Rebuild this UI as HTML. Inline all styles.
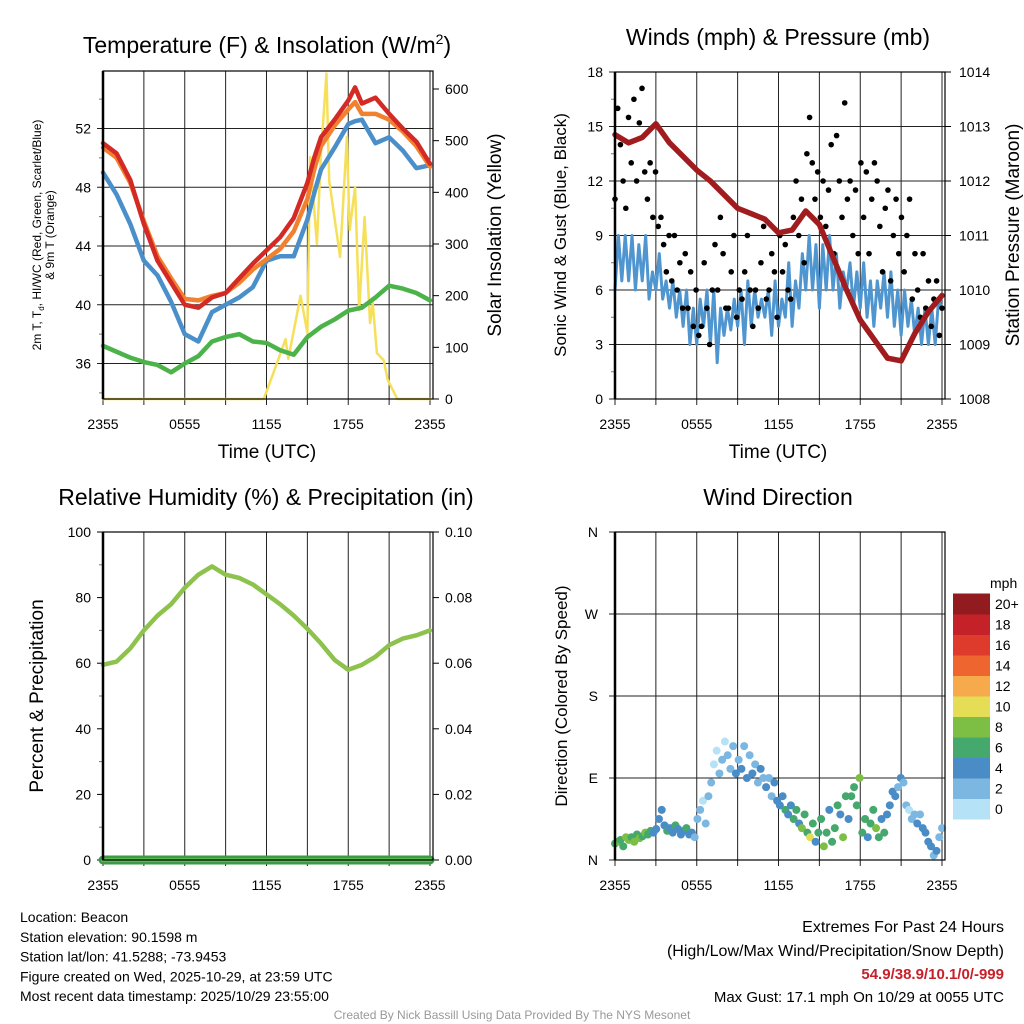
<!DOCTYPE html>
<html><head><meta charset="utf-8"><style>
body{margin:0;background:#fff;}
svg{display:block;font-family:"Liberation Sans",sans-serif;}
</style></head><body>
<svg id="c" width="1024" height="1024" xmlns="http://www.w3.org/2000/svg"></svg>
<script>
const hours=[0,1,2,3,4,5,6,7,8,9,10,11,12,13,14,15,16,17,18,19,20,21,22,23,24];
const tempHours=[0,1,2,3,4,5,6,7,8,9,10,11,12,13,14,15,15.5,16,17,18,18.5,19,20,21,22,23,24];
const tempRed=[51.0,50.3,48.5,45.5,43.0,41.5,40.0,39.8,40.5,40.8,41.8,42.8,43.7,44.6,45.9,48.3,50.0,51.4,52.6,53.9,54.8,53.7,54.1,53.0,52.0,51.1,49.6];
const tempOrange=[50.7,50.0,48.3,45.7,43.3,41.8,40.4,40.3,40.6,40.8,41.5,42.4,43.1,43.8,45.0,47.2,49.2,50.8,52.2,53.3,53.8,53.0,53.0,52.6,51.8,50.8,49.4];
const tempBlue=[49.0,47.5,45.5,43.0,42.0,40.2,38.0,37.5,39.5,40.0,40.5,41.2,43.0,43.3,43.3,45.8,47.6,49.2,50.7,52.3,52.5,52.6,51.0,51.4,50.5,49.3,49.5];
const dewGreen=[37.2,36.8,36.4,36.1,35.9,35.4,36.0,36.5,37.5,37.8,38.0,37.5,37.4,36.9,36.6,37.8,38.5,39.0,39.6,39.8,40.5,41.3,41.1,40.8,40.3];
const solarTimes=[0,11.8,12.5,13.4,13.6,14.5,15,15.2,15.7,16,16.4,16.6,17.4,17.9,18.1,18.5,18.8,19.2,19.6,19.8,20.1,20.6,20.9,21.6,24];
const solarVals=[0,0,50,116,78,200,128,468,300,476,630,423,275,507,327,410,172,352,147,186,89,75,37,0,0];
const pressure=[1012.85,1012.7,1012.8,1013.05,1012.7,1012.45,1012.2,1012.0,1011.75,1011.5,1011.4,1011.3,1011.05,1011.1,1011.45,1011.2,1010.6,1010.0,1009.45,1009.1,1008.75,1008.7,1009.2,1009.6,1009.9];
const sonicWind=[6,9,6.5,9,6.5,9,6,8.5,6.5,9,5.5,7,6,8,5.5,6.5,5,6.5,4.5,6,4,6,3,5,3,5.5,4,6,3,6,2,5,3.5,5,3.8,5.5,4,6,3,6.5,4,6,4.5,5.5,4.5,6,3.5,6.5,4,5.5,4.5,7.5,4,6.5,5,8,6,9,6,8.5,5,8.5,6,9,6,8,5,7,6,7.5,5,7,5,7.5,4.5,6.5,4,6.5,5,7,4.5,7,4,6,3.5,6,4,5.5,3.5,5,3,5,3,5,3,5.5,5];
const gusts=[11,16,14,12,10.5,15.5,13,16.5,12,15.2,17.1,12.5,11,13,10,12.5,9.5,10,8.5,7,9,6.5,9,6,7.5,5,8,5,7,4,6,3.5,4,7.5,5,3,6,8.5,6,10,8,5,5,7,9,4.5,6,5.5,7,9,6,4,6,5,7.5,9.5,5.5,6,8,7,4.5,9,7,8.5,6,5.5,10,12,9,11,7.5,13.5,15.5,13,11,12.5,10,12,9.5,11.5,14,8,14.5,12,10,16.3,11,12,9,11.5,8,13,10,12.5,8,11,13,12,9.5,7,10.5,11.5,6.5,9,11,8,10,7,9,11,5.5,8,6,4.5,8,5,6.5,4,5.5,6.5,3.5,5];
const rhHours=[0,1,2,3,4,5,6,7,8,9,10,11,12,13,14,15,16,17,18,19,20,21,22,23,24];
const rhVals=[59.5,60.5,64.5,70,74.5,78,83,87,89.5,87,86,84,81,78,74.5,70.5,66,61,58,59.5,62,65.5,67.5,68.5,70];
const precipVals=[0,0,0,0,0,0,0,0,0,0,0,0,0,0,0,0,0,0,0,0,0,0,0,0,0];
const dirVals=[18,20,22,15,25,22,25,20,28,24,26,30,28,32,30,34,45,55,38,32,35,30,38,34,28,32,35,28,30,25,45,55,65,40,70,85,105,120,95,110,130,115,100,125,95,110,100,125,90,115,95,105,85,100,90,80,90,70,85,65,60,70,55,50,60,45,55,40,35,50,30,25,40,20,30,45,15,30,55,20,35,60,50,25,70,45,70,80,60,90,30,45,25,40,55,35,25,45,30,50,60,75,70,80,90,85,60,55,45,50,40,50,35,30,20,15,5,10,25,35];
const dirSpeeds=[7,8,7,6,8,8,7,9,7,8,6,9,7,6,5,5,4,4,5,6,5,4,6,5,4,5,6,4,5,3,2,2,1,2,2,2,1,1,2,3,1,2,3,2,4,3,4,2,4,3,4,3,2,4,3,4,2,3,5,4,4,5,6,4,5,6,7,5,9,7,6,10,7,5,6,7,8,6,4,7,6,7,5,8,6,5,6,7,6,8,7,6,5,7,6,8,7,5,6,4,4,5,4,3,5,2,2,1,2,3,4,3,4,5,4,4,3,4,3,2];
const xTickLabels=["2355","0555","1155","1755","2355"];
const tempTicks=[36,40,44,48,52];
const solarTicks=[0,100,200,300,400,500,600];
const windTicks=[0,3,6,9,12,15,18];
const presTicks=[1008,1009,1010,1011,1012,1013,1014];
const rhTicks=[0,20,40,60,80,100];
const precipTicks=["0.00","0.02","0.04","0.06","0.08","0.10"];
const dirTicks=["N","E","S","W","N"];
const speedBins=["0","2","4","6","8","10","12","14","16","18","20+"];
const speedColors=["#b5e2f6","#7bb7e1","#4a8cc6","#45a86c","#7dbf45","#e6dd57","#f6aa4b","#ee6530","#df3b2c","#c42228","#921b1f"];

const NS="http://www.w3.org/2000/svg";
const svg=document.getElementById('c');
function el(tag,attrs,parent,text){const e=document.createElementNS(NS,tag);for(const k in attrs)e.setAttribute(k,attrs[k]);if(text!==undefined)e.textContent=text;(parent||svg).appendChild(e);return e;}
function lin(d0,d1,r0,r1){return v=>r0+(v-d0)*(r1-r0)/(d1-d0);}

function panel(name,x0,x1,y0,y1){
  const g=el('g',{});
  
  
  for(let h=0;h<=24;h+=3){const x=x0+(x1-x0)*h/24;el('line',{x1:x,y1:y0,x2:x,y2:y1+6,stroke:'#222','stroke-width':1},g);}
  xTickLabels.forEach((l,i)=>{const x=x0+(x1-x0)*i/4;const t=el('text',{x:x,y:y1+30,'font-size':14,'text-anchor':'middle',fill:'#000'},g,l);});
  return g;
}
function box(g,x0,x1,y0,y1){
  el('rect',{x:x0,y:y0,width:x1-x0+3,height:y1-y0,fill:'none',stroke:'#000','stroke-width':1.2},g);
  el('line',{x1:x0,y1:y0,x2:x0,y2:y1,stroke:'#000','stroke-width':2.5},g);
}
function hgrid(g,x0,x1,y){
  el('line',{x1:x0-6,y1:y,x2:x1+3,y2:y,stroke:'#222','stroke-width':1},g);
}
function poly(g,xs,ys,color,w,name){
  const p=el('polyline',{points:xs.map((x,i)=>x+','+ys[i]).join(' '),fill:'none',stroke:color,'stroke-width':w,'stroke-linejoin':'round','stroke-linecap':'round'},g);
  
  
}
function title(x,y,txt,name){const t=el('text',{x:x,y:y,'font-size':23,'text-anchor':'middle'},svg);t.innerHTML=txt;}
function rot(x,y,txt,size,name){const t=el('text',{x:x,y:y,'font-size':size,'text-anchor':'middle',transform:`rotate(-90 ${x} ${y})`},svg);t.innerHTML=txt;return t;}

// ===== Panel 1 Temperature =====
{
 const x0=103,x1=430,y0=71,y1=399;
 const X=lin(0,24,x0,x1), Y=lin(52,36,128.5,363.5), YS=lin(0,600,399,89);
 const g=panel('temperature-panel',x0,x1,y0,y1);
 tempTicks.forEach(v=>{hgrid(g,x0,x1,Y(v));el('text',{x:x0-12,y:Y(v)+5,'font-size':14,'text-anchor':'end'},g,v);});
 [34,38,42,46,50,54].forEach(v=>el('line',{x1:x0-4,y1:Y(v),x2:x0,y2:Y(v),stroke:'#777'},g));
 solarTicks.forEach(v=>{el('line',{x1:x1+3,y1:YS(v),x2:x1+9,y2:YS(v),stroke:'#000'},g);el('text',{x:x1+15,y:YS(v)+5,'font-size':14},g,v);});
 poly(g,solarTimes.map(X),solarVals.map(v=>Math.max(71,YS(v))),'#f6e05a',2.5,'solar-insolation-line');
 poly(g,hours.map(X),dewGreen.map(Y),'#4cb34a',4.5,'dewpoint-line');
 poly(g,tempHours.map(X),tempBlue.map(Y),'#4a8fca',4.5,'windchill-line');
 poly(g,tempHours.map(X),tempOrange.map(Y),'#f2812f',4.5,'temp-9m-line');
 poly(g,tempHours.map(X),tempRed.map(Y),'#d42a25',4.5,'temp-2m-line');
 box(g,x0,x1,y0,y1);
 title(267,53,'Temperature (F) &amp; Insolation (W/m<tspan font-size="14" dy="-9">2</tspan><tspan dy="9">)</tspan>','temperature-title');
 const t=el('text',{x:0,y:0,'font-size':12,'text-anchor':'middle',transform:'translate(41 235) rotate(-90)'},svg);
 
 el('tspan',{x:0,dy:0},t,'2m T, T');el('tspan',{'font-size':8,dy:3},t,'d');el('tspan',{dy:-3},t,', HI/WC (Red, Green, Scarlet/Blue)');
 el('tspan',{x:0,dy:13},t,'& 9m T (Orange)');
 rot(501,235,'Solar Insolation (Yellow)',19,'solar-y-title');
 const tt=el('text',{x:267,y:458,'font-size':19,'text-anchor':'middle'},svg,'Time (UTC)');
}
// ===== Panel 2 Winds =====
{
 const x0=615,x1=942,y0=72,y1=399;
 const X=lin(0,24,x0,x1), Y=lin(0,18,399,72), YP=lin(1008,1014,399,72);
 const g=panel('winds-panel',x0,x1,y0,y1);
 windTicks.forEach(v=>{hgrid(g,x0,x1,Y(v));el('text',{x:x0-12,y:Y(v)+5,'font-size':14,'text-anchor':'end'},g,v);});
 [1.5,4.5,7.5,10.5,13.5,16.5].forEach(v=>el('line',{x1:x0-4,y1:Y(v),x2:x0,y2:Y(v),stroke:'#777'},g));
 presTicks.forEach(v=>{el('line',{x1:x1+3,y1:YP(v),x2:x1+9,y2:YP(v),stroke:'#000'},g);el('text',{x:x1+17,y:YP(v)+5,'font-size':14},g,v);});
 poly(g,sonicWind.map((v,i)=>X(i*24/(sonicWind.length-1))),sonicWind.map(Y),'#4f95d0',3,'sonic-wind-line');
 gusts.forEach((v,i)=>{const c=el('circle',{cx:X(i*24/(gusts.length-1)),cy:Y(v),r:2.8,fill:'#000'},g);});
 poly(g,hours.map(X),pressure.map(YP),'#a11c1e',5.5,'pressure-line');
 box(g,x0,x1,y0,y1);
 title(778,45,'Winds (mph) &amp; Pressure (mb)','winds-title');
 rot(566,235,'Sonic Wind &amp; Gust (Blue, Black)',17,'wind-y-title');
 rot(1019,235,'Station Pressure (Maroon)',19,'pressure-y-title');
 const tt=el('text',{x:778,y:458,'font-size':19,'text-anchor':'middle'},svg,'Time (UTC)');
}
// ===== Panel 3 RH =====
{
 const x0=103,x1=430,y0=532,y1=860;
 const X=lin(0,24,x0,x1), Y=lin(0,100,860,532), YP=lin(0,0.1,860,532);
 const g=panel('humidity-panel',x0,x1,y0,y1);
 rhTicks.forEach(v=>{el('line',{x1:x0-6,y1:Y(v),x2:x0,y2:Y(v),stroke:'#000'},g);el('text',{x:x0-12,y:Y(v)+5,'font-size':14,'text-anchor':'end'},g,v);});
 [10,30,50,70,90].forEach(v=>el('line',{x1:x0-4,y1:Y(v),x2:x0,y2:Y(v),stroke:'#777'},g));
 precipTicks.forEach(v=>{el('line',{x1:x1+3,y1:YP(+v),x2:x1+9,y2:YP(+v),stroke:'#000'},g);el('text',{x:x1+15,y:YP(+v)+5,'font-size':14},g,v);});
 poly(g,rhHours.map(X),rhVals.map(Y),'#8dc24d',4.5,'rh-line');
 poly(g,rhHours.map(X),precipVals.map(YP),'#3e9a45',9,'precip-line');
 poly(g,rhHours.map(X),precipVals.map(YP),'#5cbb50',4,'precip-line-inner');
 box(g,x0,x1,y0,y1);
 title(266,505,'Relative Humidity (%) &amp; Precipitation (in)','humidity-title');
 rot(43,696,'Percent &amp; Precipitation',19,'humidity-y-title');
}
// ===== Panel 4 Wind direction =====
{
 const x0=615,x1=942,y0=532,y1=860;
 const X=lin(0,24,x0,x1), Y=lin(0,360,860,532);
 const g=panel('wind-direction-panel',x0,x1,y0,y1);
 dirTicks.forEach((l,i)=>{const y=Y(i*90);hgrid(g,x0,x1,y);el('text',{x:x0-17,y:y+5,'font-size':14,'text-anchor':'end'},g,l);});
 dirVals.forEach((d,i)=>{const s=dirSpeeds[i];const bi=Math.min(10,Math.floor(s/2));
  const c=el('circle',{cx:X(i*24/(dirVals.length-1)),cy:Y(d),r:4,fill:speedColors[bi]},g);
  });
 box(g,x0,x1,y0,y1);
 title(778,505,'Wind Direction','wind-direction-title');
 rot(567,696,'Direction (Colored By Speed)',17,'direction-y-title');
 const lg=el('g',{});
 el('text',{x:990,y:588,'font-size':14},lg,'mph');
 const h=20.5;
 speedBins.forEach((l,i)=>{const y=819-(i+1)*h;el('rect',{x:953,y:y,width:37,height:h+0.5,fill:speedColors[i]},lg);
  el('text',{x:995,y:y+h/2+5,'font-size':14},lg,l);});
}
// ===== Footer text =====
const info=["Location: Beacon","Station elevation: 90.1598 m","Station lat/lon: 41.5288; -73.9453","Figure created on Wed, 2025-10-29, at 23:59 UTC","Most recent data timestamp: 2025/10/29 23:55:00"];
info.forEach((s,i)=>{const t=el('text',{x:20,y:922+i*19.8,'font-size':14},svg,s);});
[["Extremes For Past 24 Hours",932,16,'#000','normal'],["(High/Low/Max Wind/Precipitation/Snow Depth)",956,16,'#000','normal'],["54.9/38.9/10.1/0/-999",979,15,'#c8202a','bold'],["Max Gust: 17.1 mph On 10/29 at 0055 UTC",1002,15,'#000','normal']].forEach(a=>{
 const t=el('text',{x:1004,y:a[1],'font-size':a[2],fill:a[3],'font-weight':a[4],'text-anchor':'end'},svg,a[0]);});
const cr=el('text',{x:512,y:1019,'font-size':12,fill:'#999','text-anchor':'middle'},svg,'Created By Nick Bassill Using Data Provided By The NYS Mesonet');

</script>
</body></html>
